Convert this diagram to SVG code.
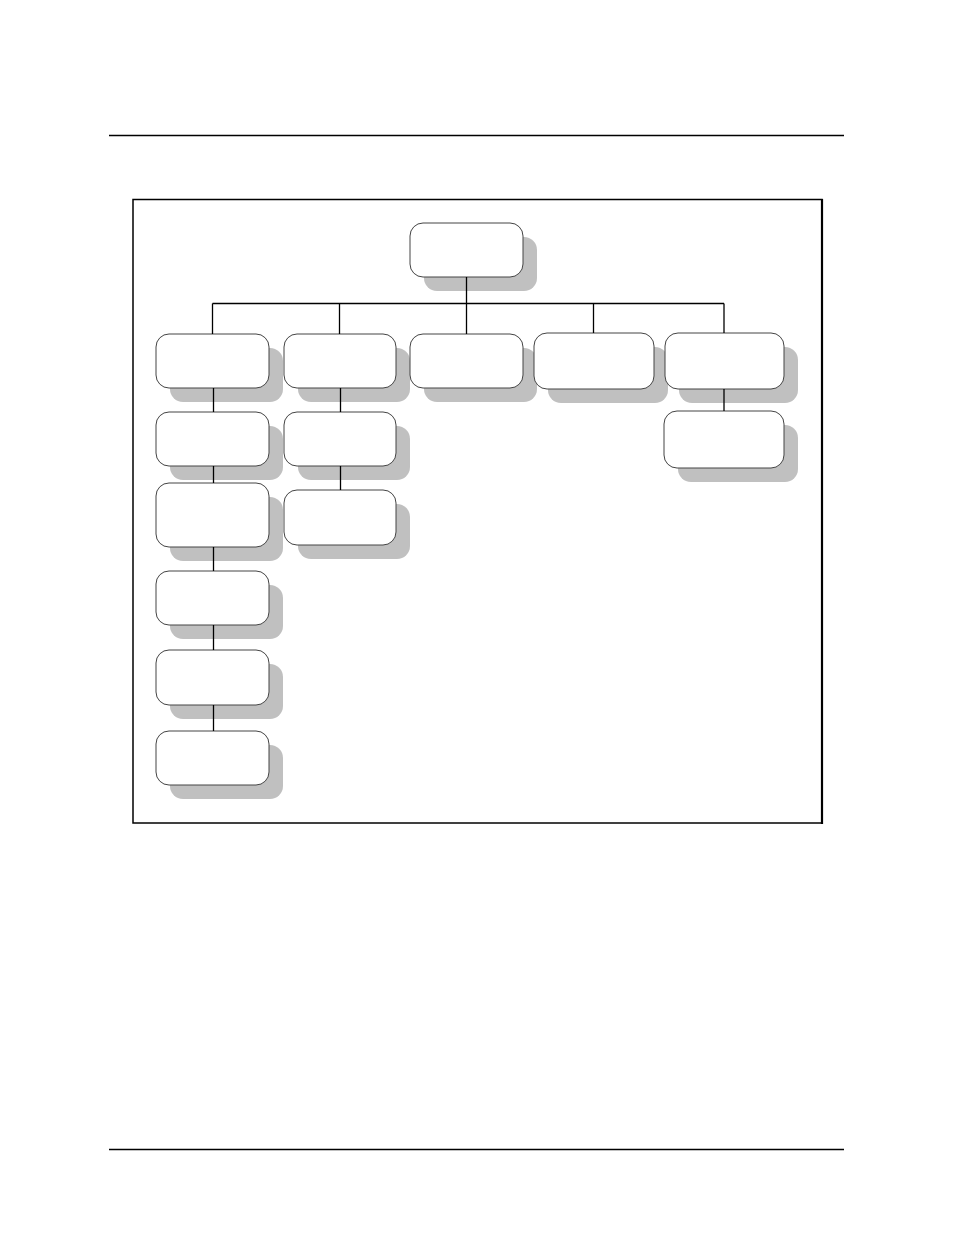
<svg xmlns="http://www.w3.org/2000/svg" width="954" height="1235" viewBox="0 0 954 1235">
<style>
.sh{fill:#c0c0c0;stroke:none}
.bx{fill:#fff;stroke:#444;stroke-width:1}
.ln{stroke:#000;stroke-width:1.3;fill:none}
</style>
<rect width="954" height="1235" fill="#fff"/>
<line class="ln" x1="109" y1="135.5" x2="844" y2="135.5"/>
<line class="ln" x1="109" y1="1149.5" x2="844" y2="1149.5"/>
<rect x="133" y="199.5" width="689" height="623.5" fill="none" stroke="#000" stroke-width="1.5"/>
<line x1="822" y1="199" x2="822" y2="824" stroke="#000" stroke-width="2.2"/>
<g id="root"><rect class="sh" x="424" y="237" width="113" height="54" rx="13"/><rect class="bx" x="410" y="223" width="113" height="54" rx="13"/></g>
<g id="n1"><rect class="sh" x="170" y="348" width="113" height="54" rx="13"/><rect class="bx" x="156" y="334" width="113" height="54" rx="13"/></g>
<g id="n2"><rect class="sh" x="298" y="348" width="112" height="54" rx="13"/><rect class="bx" x="284" y="334" width="112" height="54" rx="13"/></g>
<g id="n3"><rect class="sh" x="424" y="348" width="113" height="54" rx="13"/><rect class="bx" x="410" y="334" width="113" height="54" rx="13"/></g>
<g id="n4"><rect class="sh" x="548" y="347" width="120" height="56" rx="13"/><rect class="bx" x="534" y="333" width="120" height="56" rx="13"/></g>
<g id="n5"><rect class="sh" x="679" y="347" width="119" height="56" rx="13"/><rect class="bx" x="665" y="333" width="119" height="56" rx="13"/></g>
<g id="n5a"><rect class="sh" x="678" y="425" width="120" height="57" rx="13"/><rect class="bx" x="664" y="411" width="120" height="57" rx="13"/></g>
<g id="n1a"><rect class="sh" x="170" y="426" width="113" height="54" rx="13"/><rect class="bx" x="156" y="412" width="113" height="54" rx="13"/></g>
<g id="n1b"><rect class="sh" x="170" y="497" width="113" height="64" rx="13"/><rect class="bx" x="156" y="483" width="113" height="64" rx="13"/></g>
<g id="n1c"><rect class="sh" x="170" y="585" width="113" height="54" rx="13"/><rect class="bx" x="156" y="571" width="113" height="54" rx="13"/></g>
<g id="n1d"><rect class="sh" x="170" y="664" width="113" height="55" rx="13"/><rect class="bx" x="156" y="650" width="113" height="55" rx="13"/></g>
<g id="n1e"><rect class="sh" x="170" y="745" width="113" height="54" rx="13"/><rect class="bx" x="156" y="731" width="113" height="54" rx="13"/></g>
<g id="n2a"><rect class="sh" x="298" y="426" width="112" height="54" rx="13"/><rect class="bx" x="284" y="412" width="112" height="54" rx="13"/></g>
<g id="n2b"><rect class="sh" x="298" y="504" width="112" height="55" rx="13"/><rect class="bx" x="284" y="490" width="112" height="55" rx="13"/></g>
<g id="connectors">
<line class="ln" x1="466.5" y1="277" x2="466.5" y2="334"/>
<line class="ln" x1="212.5" y1="303.5" x2="724" y2="303.5"/>
<line class="ln" x1="212.5" y1="303.5" x2="212.5" y2="334"/>
<line class="ln" x1="339.5" y1="303.5" x2="339.5" y2="334"/>
<line class="ln" x1="593.5" y1="303.5" x2="593.5" y2="333"/>
<line class="ln" x1="724" y1="303.5" x2="724" y2="333"/>
<line class="ln" x1="213.5" y1="388" x2="213.5" y2="412"/>
<line class="ln" x1="213.5" y1="466" x2="213.5" y2="483"/>
<line class="ln" x1="213.5" y1="547" x2="213.5" y2="571"/>
<line class="ln" x1="213.5" y1="625" x2="213.5" y2="650"/>
<line class="ln" x1="213.5" y1="705" x2="213.5" y2="731"/>
<line class="ln" x1="340.5" y1="388" x2="340.5" y2="412"/>
<line class="ln" x1="340.5" y1="466" x2="340.5" y2="490"/>
<line class="ln" x1="724" y1="389" x2="724" y2="411"/>
</g>
</svg>
